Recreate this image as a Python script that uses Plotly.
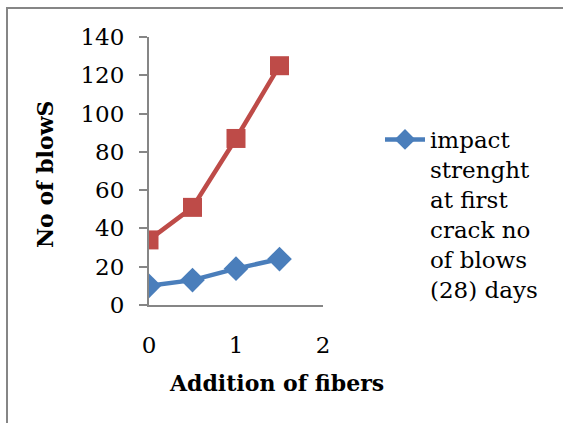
import plotly.graph_objects as go

fibers = [0, 0.5, 1, 1.5]
first_crack = [10, 13, 19, 24]
final_crack = [34, 51, 87, 125]
legend_name = "impact<br>strenght<br>at first<br>crack no<br>of blows<br>(28) days"
x_title = "Addition of fibers"
y_title = "No of blowS"

W, H = 563, 423
L, R, T, B = 149, 240, 37, 118
pw, ph = W - L - R, H - T - B

def px(x):
    return (x - L) / pw

def py(y):
    return (H - B - y) / ph

FONT = "DejaVu Serif"
FS = 23

fig = go.Figure()
fig.add_trace(go.Scatter(
    x=fibers, y=first_crack, mode="lines+markers", name=legend_name,
    line=dict(color="#4A7EBB", width=4.5),
    marker=dict(symbol="diamond", size=19, color="#4A7EBB"),
))
fig.add_trace(go.Scatter(
    x=fibers, y=final_crack, mode="lines+markers", showlegend=False,
    line=dict(color="#BE4B48", width=4.5),
    marker=dict(symbol="square", size=19, color="#BE4B48"),
))

fig.update_layout(
    width=W, height=H,
    margin=dict(l=L, r=R, t=T, b=B, pad=0),
    paper_bgcolor="white", plot_bgcolor="white",
    font=dict(family=FONT, size=FS, color="black"),
    legend=dict(x=px(380), y=py(118), xanchor="left", yanchor="top",
                valign="top", font=dict(family=FONT, size=FS),
                itemwidth=40, bgcolor="rgba(0,0,0,0)"),
    xaxis=dict(range=[0, 2], dtick=1, tick0=0, showgrid=False, zeroline=False,
               showline=True, linecolor="#868686", linewidth=2,
               ticks="", ticklabelstandoff=18,
               tickfont=dict(family=FONT, size=FS)),
    yaxis=dict(range=[0, 140], dtick=20, showgrid=False, zeroline=False,
               showline=True, linecolor="#868686", linewidth=2,
               ticks="outside", ticklen=8, tickcolor="#868686", tickwidth=2,
               ticklabelstandoff=10,
               tickfont=dict(family=FONT, size=FS)),
    shapes=[dict(type="rect", xref="paper", yref="paper",
                 x0=px(7), x1=px(600), y0=py(460), y1=py(8),
                 line=dict(color="#868686", width=2), layer="below")],
    annotations=[
        dict(text="<b>" + x_title + "</b>", xref="paper", yref="paper",
             x=px(276), y=py(383), xanchor="center", yanchor="middle",
             showarrow=False, font=dict(family=FONT, size=22)),
        dict(text="<b>" + y_title + "</b>", xref="paper", yref="paper",
             x=px(45), y=py(174), xanchor="center", yanchor="middle",
             showarrow=False, textangle=-90,
             font=dict(family=FONT, size=22)),
    ],
)

fig.write_html("out.html", config={"displayModeBar": False},
               post_script="document.body.style.margin='0px';document.body.style.overflow='hidden';")
